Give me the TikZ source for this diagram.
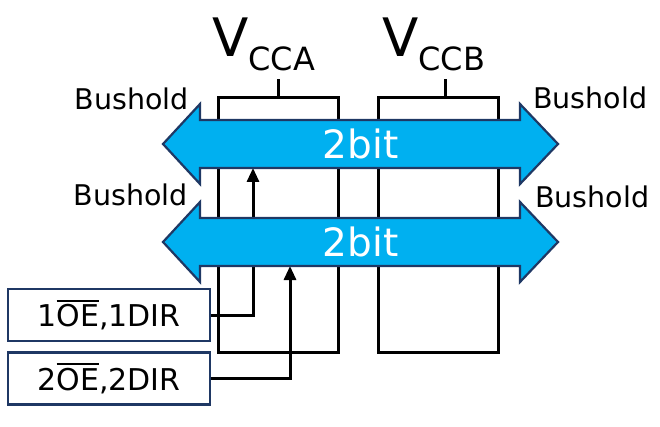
\documentclass[tikz,border=0pt]{standalone}
\usepackage{fontspec}
\setmainfont{DejaVu Sans}
\usetikzlibrary{arrows.meta,positioning}
\pgfdeclarelayer{back}
\pgfsetlayers{back,main}
\definecolor{busblue}{HTML}{00B0F0}
\definecolor{navy}{HTML}{1F3864}
\newcommand{\ovl}[1]{\begingroup\setbox0\hbox{#1}\rlap{\rule[\dimexpr\ht0+2.5pt\relax]{\wd0}{2pt}}\box0\endgroup}
\tikzset{
  chip/.style={draw, line width=3pt, minimum width=120pt, minimum height=254pt, inner sep=0pt},
  busarrow/.style={draw=navy, fill=busblue, line width=2.2pt, line join=miter},
  bustext/.style={inner sep=0pt, text=white, text height=30pt, text depth=0pt,
    font=\fontsize{39}{40}\selectfont},
  ctlbox/.style={draw=navy, line width=2.5pt, minimum width=202pt, minimum height=52pt,
    inner sep=0pt, font=\fontsize{30}{32}\selectfont},
  lbl/.style={inner sep=0pt, font=\fontsize{28.5}{30}\selectfont},
  vlbl/.style={inner sep=0pt, font=\fontsize{53}{54}\selectfont},
  wire/.style={line width=3pt},
  ctl/.style={line width=3pt, -{Triangle[length=14pt,width=12pt]}},
}
\begin{document}
\begin{tikzpicture}[x=1pt, y=-1pt]
  \useasboundingbox (0,0) rectangle (660,427);
  % supply labels
  \node[vlbl, anchor=base west] (vccA) at (212,57) {V\raisebox{-14pt}{\fontsize{32}{32}\selectfont CCA}};
  \node[vlbl, anchor=base west] (vccB) at (382,57) {V\raisebox{-14pt}{\fontsize{32}{32}\selectfont CCB}};
  \coordinate (tickA) at (278,79);
  \coordinate (tickB) at (445,79);
  % buses
  \foreach \y/\n in {144/1, 242/2} {
    \draw[busarrow] (163,\y) -- (200,\y-40) -- (200,\y-24) -- (520,\y-24) -- (520,\y-40)
      -- (558,\y) -- (520,\y+40) -- (520,\y+24) -- (200,\y+24) -- (200,\y+40) -- cycle;
    \node[bustext] (bus\n) at (360.5,\y) {2bit};
  }
  % control inputs
  \node[ctlbox] (oe1) at (109,315) {1\ovl{OE},1DIR};
  \node[ctlbox] (oe2) at (109,378.5) {2\ovl{OE},2DIR};
  \coordinate (in1) at (253,168);
  \coordinate (in2) at (290,266);
  \begin{pgfonlayer}{back}
    \node[chip] (chipA) at (278,225) {};
    \node[chip] (chipB) at (438,225) {};
    \draw[wire] (chipA.north) -- (tickA);
    \draw[wire] (chipB.north -| tickB) -- (tickB);
    \draw[ctl] (oe1.east) -| (in1);
    \draw[ctl] (oe2.east) -| (in2);
  \end{pgfonlayer}
  % bushold labels
  \node[lbl, anchor=base east] (bhA1) at (189,110) {Bushold};
  \node[lbl, anchor=base west] (bhB1) at (533,109) {Bushold};
  \node[lbl, anchor=base east] (bhA2) at (188,206) {Bushold};
  \node[lbl, anchor=base west] (bhB2) at (535,208) {Bushold};
\end{tikzpicture}
\end{document}
